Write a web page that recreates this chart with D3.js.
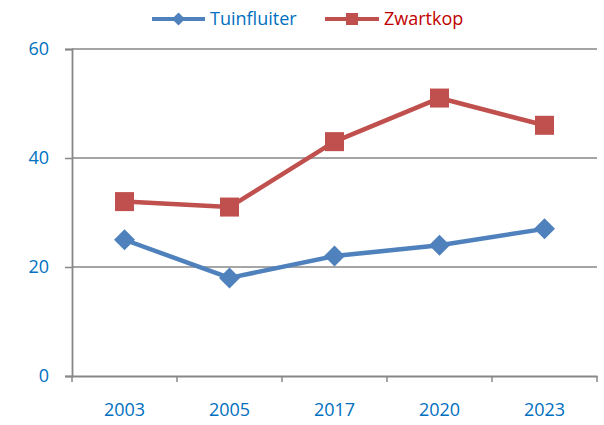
<!DOCTYPE html>
<html><head><meta charset="utf-8">
<script src="https://cdn.jsdelivr.net/npm/d3@7"></script>
<style>body{margin:0;background:#fff}svg{display:block}text{font-family:"Open Sans",sans-serif}</style>
</head><body><svg id="c" width="604" height="425"></svg>
<script>
const categories = ["2003","2005","2017","2020","2023"];
const tuinfluiter = [25,18,22,24,27];
const zwartkop = [32,31,43,51,46];
const yTicks = [0,20,40,60];

const series = [
  {name:"Tuinfluiter", values:tuinfluiter, color:"#4F81BD", text:"#0070C0", marker:"diamond"},
  {name:"Zwartkop", values:zwartkop, color:"#C0504D", text:"#C00000", marker:"square"}
];

const svg = d3.select("#c");
const x = d3.scaleBand().domain(categories).range([72,597]);
const y = d3.scaleLinear().domain([0,60]).range([376,49]);
const grey = "#878787";

// gridlines
svg.append("g").selectAll("line").data(yTicks.filter(d=>d>0)).join("line")
  .attr("x1",72).attr("x2",597).attr("y1",d=>y(d)).attr("y2",d=>y(d))
  .attr("stroke",grey).attr("stroke-width",1.3);

// y axis
const ya = svg.append("g").attr("transform","translate(72,0)")
  .call(d3.axisLeft(y).tickValues(yTicks).tickSize(7).tickPadding(16));
ya.select(".domain").attr("stroke",grey).attr("stroke-width",1.8);
ya.selectAll(".tick line").attr("stroke",grey).attr("stroke-width",1.5);
ya.selectAll("text").attr("fill","#0070C0").style("font-size","18px").style("font-family","'Open Sans',sans-serif");

// x axis
const xa = svg.append("g").attr("transform","translate(0,376)")
  .call(d3.axisBottom(x).tickSize(0).tickPadding(27));
xa.select(".domain").attr("stroke",grey).attr("stroke-width",1.8);
xa.selectAll("text").attr("fill","#0070C0").style("font-size","18px").style("font-family","'Open Sans',sans-serif");
// band-edge ticks
const edges = categories.map(c=>x(c)).concat([x.range()[1]]);
svg.append("g").selectAll("line").data(edges).join("line")
  .attr("x1",d=>d).attr("x2",d=>d).attr("y1",376).attr("y2",382)
  .attr("stroke",grey).attr("stroke-width",1.5);

const cx = c => x(c) + x.bandwidth()/2;
const line = d3.line().x((d,i)=>cx(categories[i])).y(d=>y(d));

function marker(g, type, px, py, s, color){
  if(type==="diamond"){
    g.append("path").attr("d",`M${px},${py-s/2}L${px+s/2},${py}L${px},${py+s/2}L${px-s/2},${py}Z`).attr("fill",color);
  } else {
    g.append("rect").attr("x",px-s/2).attr("y",py-s/2).attr("width",s).attr("height",s).attr("fill",color);
  }
}

series.forEach(s=>{
  svg.append("path").datum(s.values).attr("d",line).attr("fill","none")
    .attr("stroke",s.color).attr("stroke-width",4.5).attr("stroke-linejoin","round");
  const g = svg.append("g");
  s.values.forEach((v,i)=>marker(g, s.marker, cx(categories[i]), y(v), s.marker==="diamond"?21:19, s.color));
});

// legend
const legend = [
  {s:series[0], x0:152, x1:205, tx:210},
  {s:series[1], x0:325, x1:379, tx:384}
];
legend.forEach(l=>{
  svg.append("line").attr("x1",l.x0).attr("x2",l.x1).attr("y1",19).attr("y2",19)
    .attr("stroke",l.s.color).attr("stroke-width",4);
  marker(svg, l.s.marker, (l.x0+l.x1)/2, 19, l.s.marker==="diamond"?13:12, l.s.color);
  svg.append("text").attr("x",l.tx).attr("y",19).attr("dy","0.35em")
    .attr("fill",l.s.text).style("font-size","18px").text(l.s.name);
});
</script></body></html>
